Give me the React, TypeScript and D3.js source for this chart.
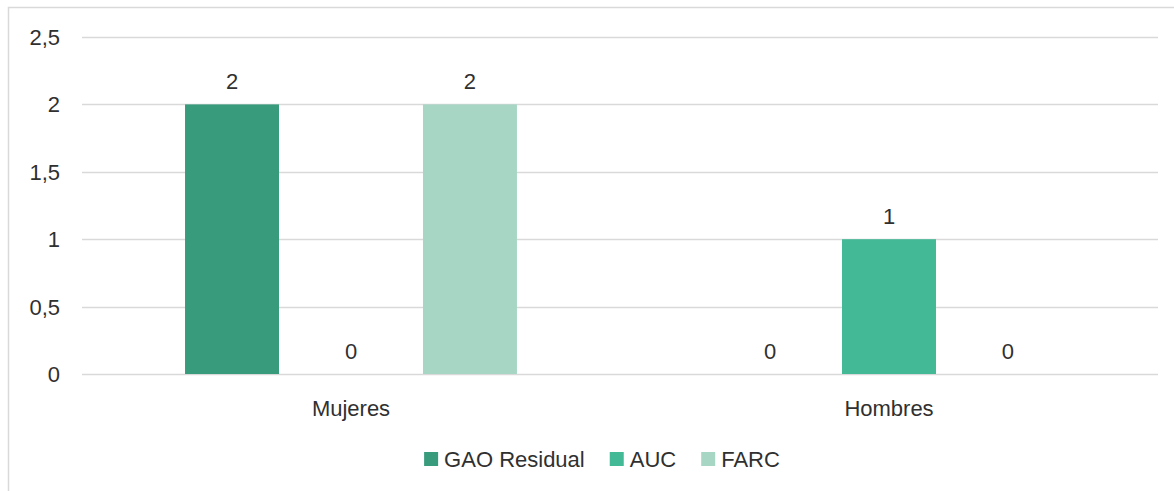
import React, { useEffect, useRef } from "react";
import * as d3 from "d3";

const categories = ["Mujeres", "Hombres"];
const seriesNames = ["GAO Residual", "AUC", "FARC"];
const gaoValues = [2, 0];
const aucValues = [0, 1];
const farcValues = [2, 0];
const yTicks = [0, 0.5, 1, 1.5, 2, 2.5];
const colors = ["#379b7c", "#43b995", "#a8d6c5"];

const W = 1174;
const H = 491;
const FONT = "'Liberation Sans', Arial, sans-serif";
const FS = 22;
const TXT = "#303030";

export default function App() {
  const ref = useRef<SVGSVGElement | null>(null);

  useEffect(() => {
    const svg = d3.select(ref.current);
    svg.selectAll("*").remove();

    const values = [gaoValues, aucValues, farcValues];
    const left = 82, right = 1158, top = 37, bottom = 374;

    svg.append("rect").attr("x", 8.5).attr("y", 7.5).attr("width", W).attr("height", H)
      .attr("fill", "#fff").attr("stroke", "#d9d9d9").attr("stroke-width", 1.5);

    const y = d3.scaleLinear().domain([0, 2.5]).range([bottom, top]);
    const x0 = d3.scaleBand().domain(categories).range([left, right]).paddingInner(0).paddingOuter(0);
    const x1 = d3.scaleBand().domain(seriesNames).range([0, x0.bandwidth()]).paddingInner(0.21).paddingOuter(0.866);

    const fmt = (v: number) => String(v).replace(".", ",");

    svg.append("g").selectAll("line").data(yTicks).join("line")
      .attr("x1", left).attr("x2", right)
      .attr("y1", (d) => Math.round(y(d)) + 0.5).attr("y2", (d) => Math.round(y(d)) + 0.5)
      .attr("stroke", "#d9d9d9").attr("stroke-width", 1.5);

    svg.append("g").selectAll("text").data(yTicks).join("text")
      .attr("x", 60).attr("y", (d) => y(d)).attr("dy", "0.36em")
      .attr("text-anchor", "end").attr("font-family", FONT)
      .attr("font-size", FS).attr("fill", TXT).text((d) => fmt(d));

    categories.forEach((cat, ci) => {
      seriesNames.forEach((s, si) => {
        const v = values[si][ci];
        const bx = (x0(cat) as number) + (x1(s) as number);
        svg.append("rect").attr("x", bx).attr("y", y(v))
          .attr("width", x1.bandwidth()).attr("height", y(0) - y(v))
          .attr("fill", colors[si]);
        svg.append("text").attr("x", bx + x1.bandwidth() / 2).attr("y", y(v) - 15)
          .attr("text-anchor", "middle").attr("font-family", FONT)
          .attr("font-size", FS).attr("fill", TXT).text(fmt(v));
      });
      svg.append("text").attr("x", (x0(cat) as number) + x0.bandwidth() / 2).attr("y", 416)
        .attr("text-anchor", "middle").attr("font-family", FONT)
        .attr("font-size", FS).attr("fill", TXT).text(cat);
    });

    const lg = svg.append("g");
    let cx = 0;
    seriesNames.forEach((s, i) => {
      const g = lg.append("g").attr("transform", `translate(${cx},0)`);
      g.append("rect").attr("x", 0).attr("y", -7).attr("width", 14).attr("height", 14).attr("fill", colors[i]);
      const t = g.append("text").attr("x", 20).attr("y", 0).attr("dy", "0.36em")
        .attr("font-family", FONT).attr("font-size", FS)
        .attr("fill", TXT).text(s);
      const tw = (t.node() as SVGTextElement).getComputedTextLength();
      cx += 20 + tw + 25;
    });
    const total = cx - 25;
    lg.attr("transform", `translate(${602 - total / 2},459)`);
  }, []);

  return (
    <svg ref={ref} width={W} height={H}
      style={{ position: "absolute", left: 0, top: 0, background: "#fff" }} />
  );
}
